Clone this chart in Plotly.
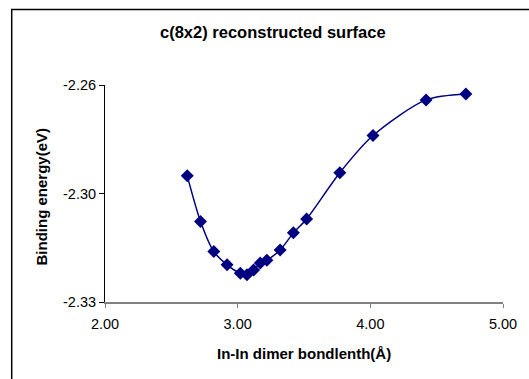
import plotly.graph_objects as go

bond_length = [2.62, 2.72, 2.82, 2.92, 3.02, 3.07, 3.12, 3.17, 3.22, 3.32, 3.42, 3.52, 3.77, 4.02, 4.42, 4.72]
binding_energy = [-2.2893, -2.3040, -2.3137, -2.3180, -2.3207, -2.3212, -2.3197, -2.3174,
                  -2.3165, -2.3132, -2.3077, -2.3032, -2.2883, -2.2763, -2.2648, -2.2629]

x_ticks = [2.0, 3.0, 4.0, 5.0]
x_ticktext = ["2.00", "3.00", "4.00", "5.00"]
y_ticks = [-2.33, -2.295, -2.26]
y_ticktext = ["-2.33", "-2.30", "-2.26"]

W, H = 529, 379
L, R, T, B = 105, 506, 85, 302
pw, ph = R - L, B - T
FONT = "Liberation Sans, Arial, sans-serif"

fig = go.Figure()
fig.add_trace(go.Scatter(
    x=bond_length, y=binding_energy, mode="lines+markers",
    line=dict(color="#000080", width=1.5, shape="spline", smoothing=0.8),
    marker=dict(symbol="diamond", size=10, color="#000080"),
    showlegend=False,
))

fig.add_shape(type="rect", xref="paper", yref="paper",
              x0=(11 - L) / pw, x1=(W + 20 - L) / pw,
              y0=(B - (H + 20)) / ph, y1=(B - 9.5) / ph,
              line=dict(color="black", width=1.5), layer="below")

def px_x(p):
    return (p - L) / pw

def px_y(p):
    return (B - p) / ph

fig.add_annotation(text="<b>c(8x2) reconstructed surface</b>", xref="paper", yref="paper",
                   x=px_x(274), y=px_y(32), xanchor="center", yanchor="middle",
                   showarrow=False, font=dict(size=16.5, family=FONT, color="black"))
fig.add_annotation(text="<b>In-In dimer bondlenth(Å)</b>", xref="paper", yref="paper",
                   x=px_x(305), y=px_y(353), xanchor="center", yanchor="middle",
                   showarrow=False, font=dict(size=15, family=FONT, color="black"))
fig.add_annotation(text="<b>Binding energy(eV)</b>", xref="paper", yref="paper",
                   x=px_x(41), y=px_y(196), xanchor="center", yanchor="middle",
                   textangle=-90, showarrow=False, font=dict(size=15, family=FONT, color="black"))

fig.update_layout(
    width=W, height=H,
    margin=dict(l=L, r=W - R, t=T, b=H - B),
    paper_bgcolor="white", plot_bgcolor="white",
    font=dict(family=FONT, size=14.5, color="black"),
    xaxis=dict(range=[2, 5], tickvals=x_ticks, ticktext=x_ticktext,
               showgrid=False, zeroline=False, showline=True, linecolor="#808080", linewidth=2,
               ticks="outside", ticklen=4, tickcolor="#808080", tickfont=dict(size=14.5),
               ticklabelstandoff=4),
    yaxis=dict(range=[-2.33, -2.26], tickvals=y_ticks, ticktext=y_ticktext,
               showgrid=False, zeroline=False, showline=True, linecolor="black", linewidth=1,
               ticks="outside", ticklen=5, tickcolor="black", tickfont=dict(size=14.5)),
)

fig.write_html("out.html")
